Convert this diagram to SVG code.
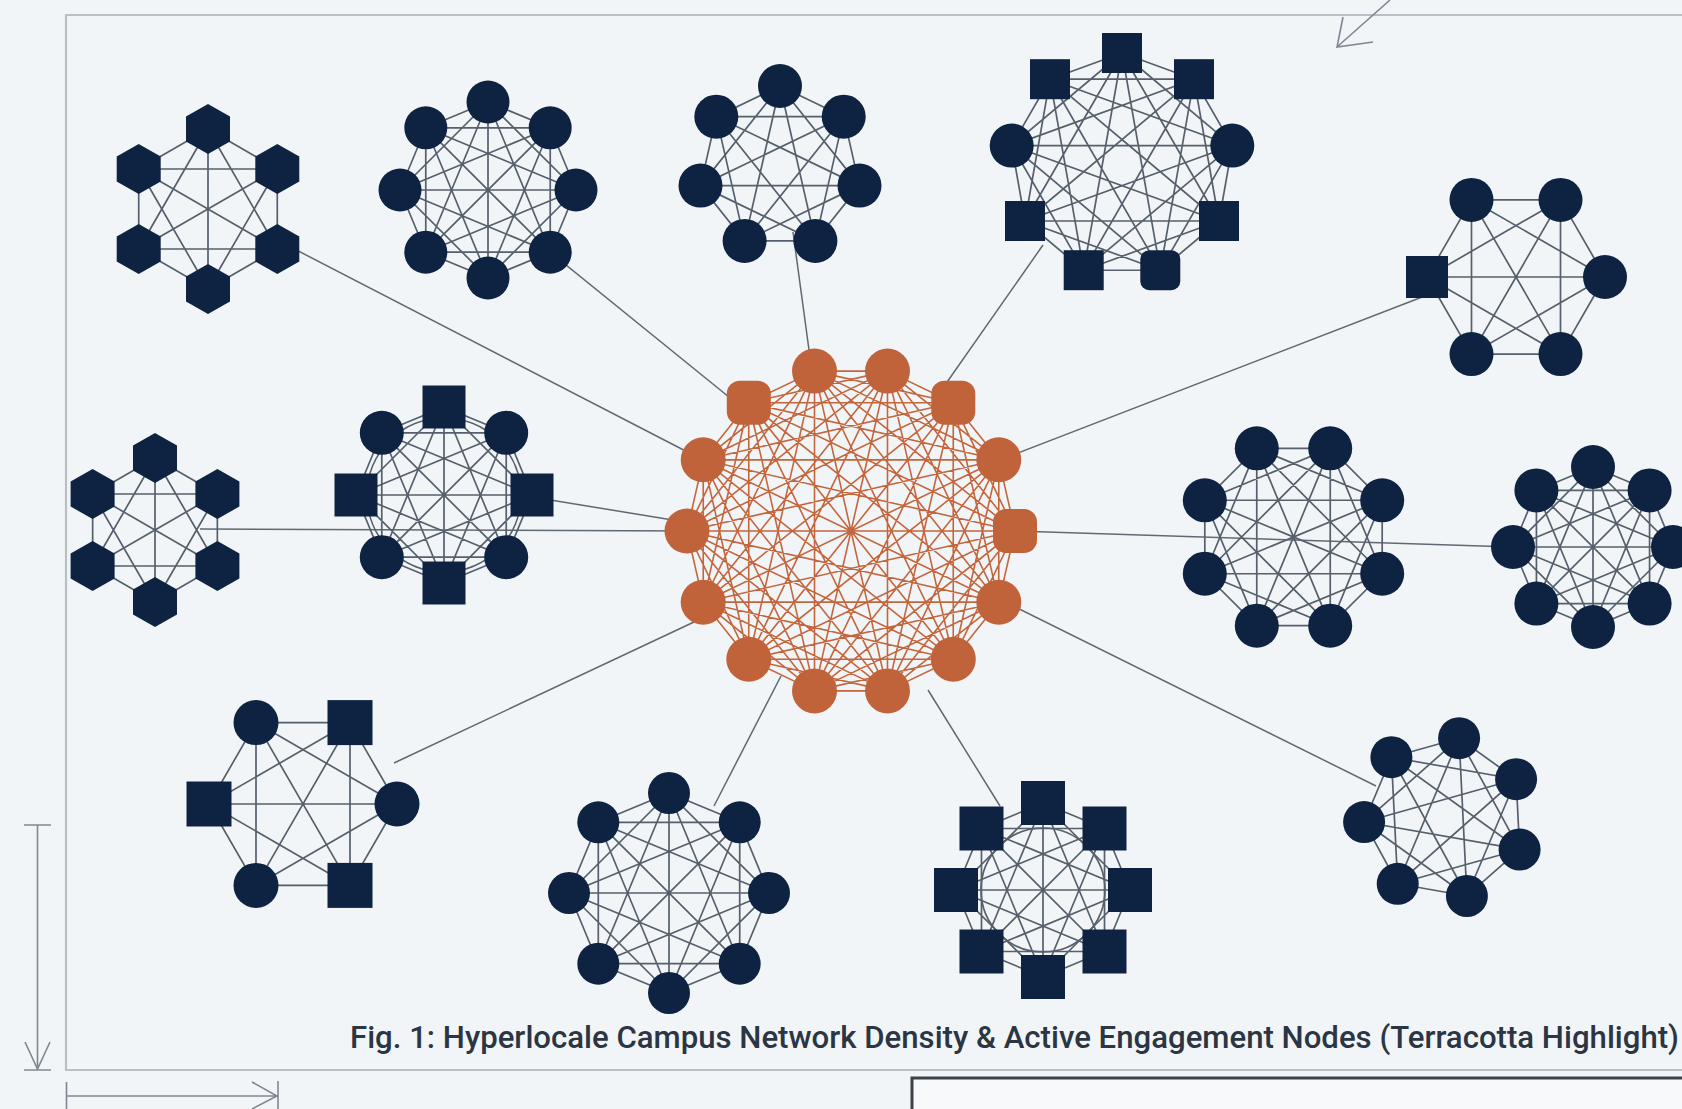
<svg xmlns="http://www.w3.org/2000/svg" xmlns:xlink="http://www.w3.org/1999/xlink" width="1682" height="1109" viewBox="0 0 1682 1109">
  <style>
    .mesh{fill:none;stroke:#55606c;stroke-width:1.7;stroke-linejoin:round}
    .mesh-hot{fill:none;stroke:#c4663d;stroke-width:1.6;stroke-linejoin:round}
    .n{fill:#0e2342}
    .hot{fill:#c0623a}
    .link{fill:none;stroke:#5f6973;stroke-width:1.5}
    .frame{fill:none;stroke:#b7bfc7;stroke-width:2.2}
    .dim{fill:none;stroke:#7f8892;stroke-width:1.6}
    .caption{font-family:Roboto,"Liberation Sans",sans-serif;font-size:31px;font-weight:500;fill:#2b3543}
  </style>
  <defs>
    <!-- complete-graph meshes on a unit ring of radius 100, drawn as star polygons -->
    <path id="k6" fill="none" vector-effect="non-scaling-stroke" d="M0,-100L86.6,-50L86.6,50L0,100L-86.6,50L-86.6,-50Z M0,-100L86.6,50L-86.6,50Z M86.6,-50L0,100L-86.6,-50Z M0,-100L0,100 M86.6,-50L-86.6,50 M86.6,50L-86.6,-50"/>
    <path id="k7" fill="none" vector-effect="non-scaling-stroke" d="M0,-100L78.18,-62.35L97.49,22.25L43.39,90.1L-43.39,90.1L-97.49,22.25L-78.18,-62.35Z M0,-100L97.49,22.25L-43.39,90.1L-78.18,-62.35L78.18,-62.35L43.39,90.1L-97.49,22.25Z M0,-100L43.39,90.1L-78.18,-62.35L97.49,22.25L-97.49,22.25L78.18,-62.35L-43.39,90.1Z"/>
    <path id="k8" fill="none" vector-effect="non-scaling-stroke" d="M0,-100L70.71,-70.71L100,0L70.71,70.71L0,100L-70.71,70.71L-100,0L-70.71,-70.71Z M0,-100L100,0L0,100L-100,0Z M70.71,-70.71L70.71,70.71L-70.71,70.71L-70.71,-70.71Z M0,-100L70.71,70.71L-100,0L70.71,-70.71L0,100L-70.71,-70.71L100,0L-70.71,70.71Z M0,-100L0,100 M70.71,-70.71L-70.71,70.71 M100,0L-100,0 M70.71,70.71L-70.71,-70.71"/>
    <path id="k9" fill="none" vector-effect="non-scaling-stroke" d="M0,-100L64.28,-76.6L98.48,-17.36L86.6,50L34.2,93.97L-34.2,93.97L-86.6,50L-98.48,-17.36L-64.28,-76.6Z M0,-100L98.48,-17.36L34.2,93.97L-86.6,50L-64.28,-76.6L64.28,-76.6L86.6,50L-34.2,93.97L-98.48,-17.36Z M0,-100L86.6,50L-86.6,50Z M64.28,-76.6L34.2,93.97L-98.48,-17.36Z M98.48,-17.36L-34.2,93.97L-64.28,-76.6Z M0,-100L34.2,93.97L-64.28,-76.6L86.6,50L-98.48,-17.36L98.48,-17.36L-86.6,50L64.28,-76.6L-34.2,93.97Z"/>
    <path id="k14" fill="none" vector-effect="non-scaling-stroke" d="M22.25,-97.49L62.35,-78.18L90.1,-43.39L100,0L90.1,43.39L62.35,78.18L22.25,97.49L-22.25,97.49L-62.35,78.18L-90.1,43.39L-100,0L-90.1,-43.39L-62.35,-78.18L-22.25,-97.49Z M22.25,-97.49L90.1,-43.39L90.1,43.39L22.25,97.49L-62.35,78.18L-100,0L-62.35,-78.18Z M62.35,-78.18L100,0L62.35,78.18L-22.25,97.49L-90.1,43.39L-90.1,-43.39L-22.25,-97.49Z M22.25,-97.49L100,0L22.25,97.49L-90.1,43.39L-62.35,-78.18L62.35,-78.18L90.1,43.39L-22.25,97.49L-100,0L-22.25,-97.49L90.1,-43.39L62.35,78.18L-62.35,78.18L-90.1,-43.39Z M22.25,-97.49L90.1,43.39L-62.35,78.18L-62.35,-78.18L90.1,-43.39L22.25,97.49L-100,0Z M62.35,-78.18L62.35,78.18L-90.1,43.39L-22.25,-97.49L100,0L-22.25,97.49L-90.1,-43.39Z M22.25,-97.49L62.35,78.18L-100,0L62.35,-78.18L22.25,97.49L-90.1,-43.39L90.1,-43.39L-22.25,97.49L-62.35,-78.18L100,0L-62.35,78.18L-22.25,-97.49L90.1,43.39L-90.1,43.39Z M22.25,-97.49L22.25,97.49L-62.35,-78.18L90.1,43.39L-100,0L90.1,-43.39L-62.35,78.18Z M62.35,-78.18L-22.25,97.49L-22.25,-97.49L62.35,78.18L-90.1,-43.39L100,0L-90.1,43.39Z M22.25,-97.49L-22.25,97.49 M62.35,-78.18L-62.35,78.18 M90.1,-43.39L-90.1,43.39 M100,0L-100,0 M90.1,43.39L-90.1,-43.39 M62.35,78.18L-62.35,-78.18 M22.25,97.49L-22.25,-97.49"/>
    <polygon id="hex" points="0,-25 22,-12.5 22,12.5 0,25 -22,12.5 -22,-12.5"/>
  </defs>

  <rect width="1682" height="1109" fill="#f2f5f7"/>

  <!-- frame and dimension marks -->
  <g id="frame">
    <path class="frame" d="M1682,15 H66 V1070 H1682"/>
    <path class="dim" d="M24,825 H51 M37.5,825 V1069 M25,1042 L37.5,1069 L50,1042 M24,1070 H51"/>
    <path class="dim" d="M66.5,1082 V1109 M66.5,1096 H277 M252,1082 L277,1096 L252,1109 M278,1081 V1109"/>
    <path class="dim" d="M1390,0 L1337,47 M1343,17 L1337,47 L1373,42"/>
    <rect x="912" y="1078" width="800" height="60" fill="#f7f9fa" stroke="#3b424a" stroke-width="3"/>
  </g>

  <!-- links between the hub and the outer clusters -->
  <g id="connectors">
    <line class="link" x1="277" y1="240" x2="703" y2="460"/>
    <line class="link" x1="550" y1="252" x2="745" y2="410"/>
    <line class="link" x1="793" y1="232" x2="812" y2="372"/>
    <line class="link" x1="1043" y1="245" x2="945" y2="385"/>
    <line class="link" x1="1430" y1="294" x2="1005" y2="458"/>
    <line class="link" x1="200" y1="529" x2="687" y2="531"/>
    <line class="link" x1="532" y1="497" x2="685" y2="522"/>
    <line class="link" x1="1015" y1="531" x2="1513" y2="547"/>
    <line class="link" x1="394" y1="763" x2="694" y2="622"/>
    <line class="link" x1="714" y1="806" x2="781" y2="676"/>
    <line class="link" x1="1000" y1="806" x2="928" y2="690"/>
    <line class="link" x1="1376" y1="786" x2="1003" y2="601"/>
  </g>

  <g id="cluster-hex-top">
    <use href="#k6" class="mesh" transform="translate(208,209) scale(0.8)"/>
    <use href="#hex" class="n" x="208" y="129"/>
    <use href="#hex" class="n" x="277.3" y="169"/>
    <use href="#hex" class="n" x="277.3" y="249"/>
    <use href="#hex" class="n" x="208" y="289"/>
    <use href="#hex" class="n" x="138.7" y="249"/>
    <use href="#hex" class="n" x="138.7" y="169"/>
  </g>

  <g id="cluster-ring8-top">
    <use href="#k8" class="mesh" transform="translate(488,190) scale(0.88)"/>
    <circle class="n" cx="488" cy="102" r="21.5"/>
    <circle class="n" cx="550.2" cy="127.8" r="21.5"/>
    <circle class="n" cx="576" cy="190" r="21.5"/>
    <circle class="n" cx="550.2" cy="252.2" r="21.5"/>
    <circle class="n" cx="488" cy="278" r="21.5"/>
    <circle class="n" cx="425.8" cy="252.2" r="21.5"/>
    <circle class="n" cx="400" cy="190" r="21.5"/>
    <circle class="n" cx="425.8" cy="127.8" r="21.5"/>
  </g>

  <g id="cluster-ring7-top">
    <use href="#k7" class="mesh" transform="translate(780,167.5) scale(0.815)"/>
    <circle class="n" cx="780" cy="86" r="22"/>
    <circle class="n" cx="843.7" cy="116.7" r="22"/>
    <circle class="n" cx="859.5" cy="185.6" r="22"/>
    <circle class="n" cx="815.4" cy="240.9" r="22"/>
    <circle class="n" cx="744.6" cy="240.9" r="22"/>
    <circle class="n" cx="700.5" cy="185.6" r="22"/>
    <circle class="n" cx="716.3" cy="116.7" r="22"/>
  </g>

  <g id="cluster-ring9">
    <use href="#k9" class="mesh" transform="translate(1122,165) scale(1.12)"/>
    <rect class="n" x="1102" y="33" width="40" height="40"/>
    <rect class="n" x="1174" y="59.2" width="40" height="40"/>
    <circle class="n" cx="1232.3" cy="145.6" r="22"/>
    <rect class="n" x="1199" y="201" width="40" height="40"/>
    <rect class="n" x="1140.3" y="250.2" width="40" height="40" rx="9"/>
    <rect class="n" x="1063.7" y="250.2" width="40" height="40"/>
    <rect class="n" x="1005" y="201" width="40" height="40"/>
    <circle class="n" cx="1011.7" cy="145.6" r="22"/>
    <rect class="n" x="1030" y="59.2" width="40" height="40"/>
  </g>

  <g id="cluster-hex-right">
    <use href="#k6" class="mesh" transform="translate(1516,277) rotate(30) scale(0.89)"/>
    <circle class="n" cx="1560.5" cy="199.9" r="22"/>
    <circle class="n" cx="1605" cy="277" r="22"/>
    <circle class="n" cx="1560.5" cy="354.1" r="22"/>
    <circle class="n" cx="1471.5" cy="354.1" r="22"/>
    <rect class="n" x="1406" y="256" width="42" height="42"/>
    <circle class="n" cx="1471.5" cy="199.9" r="22"/>
  </g>

  <g id="cluster-hex-left">
    <use href="#k6" class="mesh" transform="translate(155,530) scale(0.72)"/>
    <use href="#hex" class="n" x="155" y="458"/>
    <use href="#hex" class="n" x="217.4" y="494"/>
    <use href="#hex" class="n" x="217.4" y="566"/>
    <use href="#hex" class="n" x="155" y="602"/>
    <use href="#hex" class="n" x="92.6" y="566"/>
    <use href="#hex" class="n" x="92.6" y="494"/>
  </g>

  <g id="cluster-mixed8">
    <use href="#k8" class="mesh" transform="translate(444,495) scale(0.88)"/>
    <circle class="mesh" cx="444" cy="495" r="77"/>
    <rect class="n" x="422.5" y="385.5" width="43" height="43"/>
    <circle class="n" cx="506.2" cy="432.8" r="22"/>
    <rect class="n" x="510.5" y="473.5" width="43" height="43"/>
    <circle class="n" cx="506.2" cy="557.2" r="22"/>
    <rect class="n" x="422.5" y="561.5" width="43" height="43"/>
    <circle class="n" cx="381.8" cy="557.2" r="22"/>
    <rect class="n" x="334.5" y="473.5" width="43" height="43"/>
    <circle class="n" cx="381.8" cy="432.8" r="22"/>
  </g>

  <!-- central hub, terracotta highlight -->
  <g id="hub">
    <use href="#k14" class="mesh-hot" transform="translate(851,531) scale(1.64)"/>
    <circle class="hot" cx="887.5" cy="371.1" r="22.5"/>
    <rect class="hot" x="931.3" y="380.8" width="44" height="44" rx="13"/>
    <circle class="hot" cx="998.8" cy="459.8" r="22.5"/>
    <rect class="hot" x="993" y="509" width="44" height="44" rx="13"/>
    <circle class="hot" cx="998.8" cy="602.2" r="22.5"/>
    <circle class="hot" cx="953.3" cy="659.2" r="22.5"/>
    <circle class="hot" cx="887.5" cy="690.9" r="22.5"/>
    <circle class="hot" cx="814.5" cy="690.9" r="22.5"/>
    <circle class="hot" cx="748.8" cy="659.2" r="22.5"/>
    <circle class="hot" cx="703.2" cy="602.2" r="22.5"/>
    <circle class="hot" cx="687" cy="531" r="22.5"/>
    <circle class="hot" cx="703.2" cy="459.8" r="22.5"/>
    <rect class="hot" x="726.8" y="380.8" width="44" height="44" rx="13"/>
    <circle class="hot" cx="814.5" cy="371.1" r="22.5"/>
  </g>

  <g id="cluster-ring8-mid">
    <use href="#k8" class="mesh" transform="translate(1293.5,537) rotate(22.5) scale(0.96)"/>
    <circle class="n" cx="1330.2" cy="448.3" r="22"/>
    <circle class="n" cx="1382.2" cy="500.3" r="22"/>
    <circle class="n" cx="1382.2" cy="573.7" r="22"/>
    <circle class="n" cx="1330.2" cy="625.7" r="22"/>
    <circle class="n" cx="1256.8" cy="625.7" r="22"/>
    <circle class="n" cx="1204.8" cy="573.7" r="22"/>
    <circle class="n" cx="1204.8" cy="500.3" r="22"/>
    <circle class="n" cx="1256.8" cy="448.3" r="22"/>
  </g>

  <g id="cluster-ring8-edge">
    <use href="#k8" class="mesh" transform="translate(1593,547) scale(0.8)"/>
    <circle class="n" cx="1593" cy="467" r="22"/>
    <circle class="n" cx="1649.6" cy="490.4" r="22"/>
    <circle class="n" cx="1673" cy="547" r="22"/>
    <circle class="n" cx="1649.6" cy="603.6" r="22"/>
    <circle class="n" cx="1593" cy="627" r="22"/>
    <circle class="n" cx="1536.4" cy="603.6" r="22"/>
    <circle class="n" cx="1513" cy="547" r="22"/>
    <circle class="n" cx="1536.4" cy="490.4" r="22"/>
  </g>

  <g id="cluster-mixed6">
    <use href="#k6" class="mesh" transform="translate(303,804) rotate(30) scale(0.94)"/>
    <rect class="n" x="327.5" y="700.1" width="45" height="45"/>
    <circle class="n" cx="397" cy="804" r="22.5"/>
    <rect class="n" x="327.5" y="862.9" width="45" height="45"/>
    <circle class="n" cx="256" cy="885.4" r="22.5"/>
    <rect class="n" x="186.5" y="781.5" width="45" height="45"/>
    <circle class="n" cx="256" cy="722.6" r="22.5"/>
  </g>

  <g id="cluster-ring8-bottom">
    <use href="#k8" class="mesh" transform="translate(669,893)"/>
    <circle class="n" cx="669" cy="793" r="21"/>
    <circle class="n" cx="739.7" cy="822.3" r="21"/>
    <circle class="n" cx="769" cy="893" r="21"/>
    <circle class="n" cx="739.7" cy="963.7" r="21"/>
    <circle class="n" cx="669" cy="993" r="21"/>
    <circle class="n" cx="598.3" cy="963.7" r="21"/>
    <circle class="n" cx="569" cy="893" r="21"/>
    <circle class="n" cx="598.3" cy="822.3" r="21"/>
  </g>

  <g id="cluster-squares8">
    <use href="#k8" class="mesh" transform="translate(1043,890) scale(0.87)"/>
    <circle class="mesh" cx="1043" cy="890" r="62"/>
    <rect class="n" x="1021" y="781" width="44" height="44"/>
    <rect class="n" x="1082.5" y="806.5" width="44" height="44"/>
    <rect class="n" x="1108" y="868" width="44" height="44"/>
    <rect class="n" x="1082.5" y="929.5" width="44" height="44"/>
    <rect class="n" x="1021" y="955" width="44" height="44"/>
    <rect class="n" x="959.5" y="929.5" width="44" height="44"/>
    <rect class="n" x="934" y="868" width="44" height="44"/>
    <rect class="n" x="959.5" y="806.5" width="44" height="44"/>
  </g>

  <g id="cluster-ring7-bottom">
    <use href="#k7" class="mesh" transform="translate(1445,818) rotate(10) scale(0.81)"/>
    <circle class="n" cx="1459.1" cy="738.2" r="21"/>
    <circle class="n" cx="1516.1" cy="779.2" r="21"/>
    <circle class="n" cx="1519.6" cy="849.5" r="21"/>
    <circle class="n" cx="1466.9" cy="896" r="21"/>
    <circle class="n" cx="1397.7" cy="883.8" r="21"/>
    <circle class="n" cx="1364.1" cy="822.1" r="21"/>
    <circle class="n" cx="1391.4" cy="757.2" r="21"/>
  </g>

  <text class="caption" x="350" y="1048" textLength="1329" lengthAdjust="spacingAndGlyphs">Fig. 1: Hyperlocale Campus Network Density &amp; Active Engagement Nodes (Terracotta Highlight)</text>
</svg>
